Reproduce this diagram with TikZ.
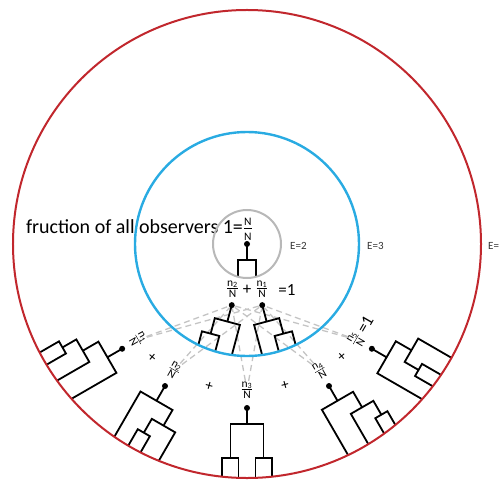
\documentclass[tikz,border=0pt]{standalone}
\usepackage{fontspec}
\setmainfont{Carlito}
\usetikzlibrary{calc}

\definecolor{ringred}{HTML}{C1272D}
\definecolor{ringblue}{HTML}{29ABE2}
\definecolor{ringgray}{HTML}{B8B8B8}
\definecolor{guidegray}{HTML}{C4C4C4}

\newcommand{\fracfont}{\fontsize{11.5}{11.5}\selectfont}
\newcommand{\frc}[2]{$\frac{\mbox{\fracfont\rule[-1pt]{0pt}{1pt}#1}}{\mbox{\fracfont\rule{0pt}{8.4pt}#2}}$}

\tikzset{
    ring/.style = {line width=2pt},
    branch/.style = {line width=1.8pt, line join=miter},
    dot/.style = {circle, fill=black, inner sep=0pt, minimum size=6pt},
    frac/.style = {inner sep=0.5pt, font=\fontsize{12}{12}\selectfont},
    sign/.style = {inner sep=0pt, font=\fontsize{15}{15}\selectfont},
    bigsign/.style = {inner sep=0pt, font=\fontsize{17}{17}\selectfont},
    energy/.style = {anchor=west, inner sep=0pt, text=black!80, font=\fontsize{11}{11}\selectfont},
    guide/.style = {draw=guidegray, line width=1.3pt, dash pattern=on 6pt off 4pt},
    % dendrograms: root at (0,0), leaves run down past the ring
    pair/.pic = {
        \draw[branch] (0,0) -- (0,-16) (-9,-60) -- (-9,-16) -- (9,-16) -- (9,-60);
    },
    trio/.pic = {
        \draw[branch] (0,0) -- (0,-17) (13,-80) -- (13,-17) -- (-13,-17) -- (-13,-33)
            (-22,-80) -- (-22,-33) -- (-4,-33) -- (-4,-80);
    },
    quad/.pic = {
        \draw[branch] (0,0) -- (0,-16) (-16.5,-50) -- (-16.5,-16) -- (16.5,-16) -- (16.5,-50)
            (-25,-90) -- (-25,-50) -- (-8.5,-50) -- (-8.5,-90)
            (8.5,-90) -- (8.5,-50) -- (25,-50) -- (25,-90);
    },
    fork/.pic = {
        \draw[branch] (0,0) -- (0,-17) (-18.5,-90) -- (-18.5,-17) -- (18.5,-17) -- (18.5,-35)
            (32,-90) -- (32,-35) -- (5,-35) -- (5,-51)
            (-2,-90) -- (-2,-51) -- (12,-51) -- (12,-90);
    },
    ladder/.pic = {
        \draw[branch] (0,0) -- (0,-17) (-18,-90) -- (-18,-17) -- (18,-17) -- (18,-35)
            (5,-90) -- (5,-35) -- (31,-35) -- (31,-51)
            (24,-90) -- (24,-51) -- (38,-51) -- (38,-90);
    },
}

\begin{document}
\begin{tikzpicture}[x=1pt, y=1pt]
  \useasboundingbox (-247,-235) rectangle (255,244);

  % roots
  \node[dot] (r1)  at (0,0) {};
  \node[dot] (r2a) at (-104:63) {};
  \node[dot] (r2b) at (-76:63) {};
  \node[dot] (r3a) at (-140:163) {};
  \node[dot] (r3b) at (-120:164) {};
  \node[dot] (r3c) at (-90:164) {};
  \node[dot] (r3d) at (-60:164) {};
  \node[dot] (r3e) at (-40:163) {};

  % fractions of observers
  \node[anchor=base east, inner sep=0pt, font=\fontsize{20}{21}\selectfont] (title) at (6,10.3)
      {fruction of all observers 1=\frc{N}{N}};
  \node[frac] (f2a) at (-14.5,-45) {\frc{n\textsubscript{2}}{N}};
  \node[frac] (f2b) at (15,-45) {\frc{n\textsubscript{1}}{N}};
  \node[bigsign] (p2) at (0,-46) {+};
  \node[bigsign] (eq2) at (40,-46) {=1};

  \node[frac, rotate=-60] (f3a) at ($(r3a)+(30:18)$) {\frc{n\textsubscript{1}}{N}};
  \node[frac, rotate=-30] (f3b) at ($(r3b)+(60:18)$) {\frc{n\textsubscript{2}}{N}};
  \node[frac] (f3c) at ($(r3c)+(90:18)$) {\frc{n\textsubscript{3}}{N}};
  \node[frac, rotate=30] (f3d) at ($(r3d)+(120:18)$) {\frc{n\textsubscript{4}}{N}};
  \node[frac, rotate=60] (f3e) at ($(r3e)+(150:18)$) {\frc{n\textsubscript{5}}{N}};
  \node[bigsign, rotate=60, anchor=west] (eq3) at ([shift={(60:2)}]f3e.east) {=1};

  \node[sign, rotate=-40] (p3a) at (-130:148) {+};
  \node[sign, rotate=-15] (p3b) at (-105:147) {+};
  \node[sign, rotate=15] (p3c) at (-75:147) {+};
  \node[sign, rotate=40] (p3d) at (-50:148) {+};

  % energy levels
  \node[energy] (e2) at (43,-2) {E=2};
  \node[energy] (e3) at (120,-2) {E=3};
  \node[energy] (e4) at (241,-2) {E=};

  % dashed links from the outer fractions back to the inner roots
  \foreach \f in {f3a,f3b,f3c,f3d,f3e}
    \foreach \r in {r2a,r2b}
      \draw[guide] (\f) -- (\r);

  % trees
  \begin{scope}
    \clip (0,0) circle (34);
    \pic at (r1) {pair};
  \end{scope}
  \begin{scope}
    \clip (0,0) circle (112);
    \pic[rotate=-15] at (r2a) {trio};
    \pic[rotate=15, xscale=-1] at (r2b) {trio};
  \end{scope}
  \begin{scope}
    \clip (0,0) circle (234);
    \pic[rotate=-60, xscale=-1] at (r3a) {ladder};
    \pic[rotate=-30] at (r3b) {fork};
    \pic at (r3c) {quad};
    \pic[rotate=30] at (r3d) {ladder};
    \pic[rotate=60] at (r3e) {fork};
  \end{scope}

  % rings
  \draw[ring, ringgray] (0,0) circle (34);
  \draw[ring, ringblue, line width=2.4pt] (0,0) circle (112);
  \draw[ring, ringred] (0,0) circle (234);
\end{tikzpicture}
\end{document}
